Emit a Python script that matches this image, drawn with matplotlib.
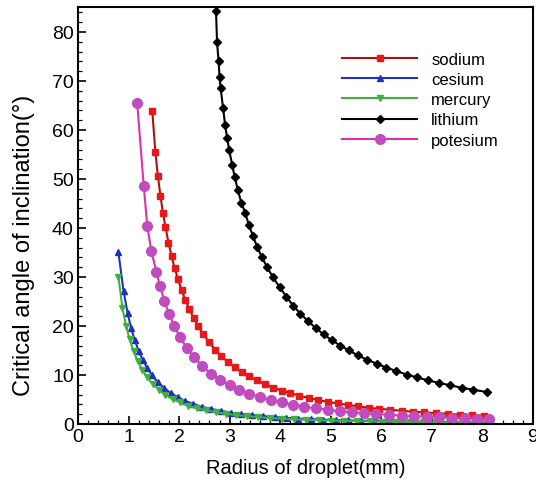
import matplotlib.pyplot as plt
from matplotlib.ticker import MultipleLocator

plt.rcParams['font.family'] = ['Liberation Sans', 'DejaVu Sans']

# radius of droplet (mm) and critical angle (deg)
sodium_r = [1.47, 1.53, 1.58, 1.63, 1.68, 1.73, 1.79, 1.85, 1.91, 1.98, 2.05, 2.12, 2.20, 2.29,
            2.38, 2.48, 2.59, 2.71, 2.83, 2.96, 3.10, 3.24, 3.39, 3.54, 3.70, 3.86, 4.03, 4.20,
            4.38, 4.56, 4.75, 4.94, 5.14, 5.34, 5.54, 5.75, 5.96, 6.18, 6.40, 6.62, 6.85, 7.08,
            7.31, 7.55, 7.79, 8.03]
sodium_a = [63.8, 55.5, 50.6, 46.6, 43.1, 40.2, 37.0, 34.3, 31.9, 29.5, 27.3, 25.4, 23.5, 21.6,
            19.9, 18.3, 16.7, 15.2, 13.9, 12.7, 11.6, 10.6, 9.7, 8.9, 8.1, 7.4, 6.8, 6.3,
            5.8, 5.3, 4.9, 4.5, 4.2, 3.9, 3.6, 3.3, 3.1, 2.9, 2.7, 2.5, 2.4, 2.2,
            2.1, 1.9, 1.8, 1.7]

cesium_r = [0.80, 0.90, 0.98, 1.05, 1.12, 1.20, 1.28, 1.37, 1.47, 1.58, 1.70, 1.83, 1.97, 2.12,
            2.28, 2.45, 2.63, 2.82, 3.02, 3.23, 3.44, 3.66, 3.89, 4.12, 4.36, 4.60, 4.85, 5.10,
            5.35, 5.60, 5.86, 6.12, 6.38, 6.64, 6.90, 7.16, 7.42, 7.68, 7.94, 8.10]
cesium_a = [35.0, 27.2, 22.7, 19.6, 17.2, 14.9, 13.1, 11.4, 9.9, 8.5, 7.4, 6.3, 5.5, 4.7,
            4.1, 3.5, 3.1, 2.7, 2.3, 2.0, 1.8, 1.6, 1.4, 1.25, 1.1, 1.0, 0.9, 0.8,
            0.74, 0.68, 0.62, 0.57, 0.52, 0.48, 0.45, 0.41, 0.39, 0.36, 0.34, 0.32]

mercury_r = [0.80, 0.88, 0.95, 1.02, 1.10, 1.18, 1.27, 1.37, 1.48, 1.60, 1.73, 1.87, 2.02, 2.18,
             2.35, 2.53, 2.72, 2.92, 3.13, 3.35, 3.57, 3.80, 4.03, 4.27, 4.51, 4.76, 5.01, 5.26,
             5.52, 5.78, 6.04, 6.30, 6.56, 6.82, 7.08, 7.34, 7.60, 7.86, 8.12]
mercury_a = [30.0, 23.6, 20.1, 17.3, 14.8, 12.9, 11.1, 9.5, 8.1, 7.0, 5.9, 5.1, 4.4, 3.7,
             3.2, 2.8, 2.4, 2.1, 1.8, 1.6, 1.4, 1.2, 1.1, 0.97, 0.87, 0.78, 0.71, 0.64,
             0.58, 0.53, 0.49, 0.45, 0.41, 0.38, 0.35, 0.33, 0.31, 0.29, 0.27]

lithium_r = [2.73, 2.75, 2.78, 2.80, 2.82, 2.87, 2.91, 2.95, 2.99, 3.05, 3.10, 3.16, 3.23, 3.31,
             3.38, 3.46, 3.54, 3.64, 3.74, 3.86, 3.99, 4.12, 4.26, 4.40, 4.55, 4.70, 4.86, 5.02,
             5.19, 5.36, 5.54, 5.72, 5.91, 6.10, 6.30, 6.50, 6.71, 6.92, 7.14, 7.36, 7.59, 7.82,
             8.10]
lithium_a = [84.3, 78.0, 74.1, 70.8, 68.6, 64.5, 61.0, 58.4, 55.9, 52.9, 50.4, 47.8, 45.2, 43.0,
             40.6, 38.4, 36.2, 34.0, 32.0, 29.9, 27.9, 26.0, 24.1, 22.5, 21.0, 19.6, 18.3, 17.1,
             16.0, 15.0, 14.0, 13.1, 12.3, 11.5, 10.8, 10.1, 9.5, 8.9, 8.4, 7.9, 7.4, 7.0,
             6.5]

potesium_r = [1.17, 1.30, 1.37, 1.45, 1.55, 1.62, 1.71, 1.80, 1.90, 2.02, 2.15, 2.30, 2.46, 2.63,
              2.81, 3.00, 3.19, 3.39, 3.60, 3.81, 4.03, 4.25, 4.48, 4.71, 4.94, 5.18, 5.42, 5.66,
              5.90, 6.15, 6.40, 6.65, 6.90, 7.15, 7.40, 7.65, 7.90, 8.12]
potesium_a = [65.6, 48.6, 40.5, 35.3, 31.1, 28.2, 25.1, 22.5, 20.1, 17.7, 15.6, 13.6, 11.8, 10.3,
              9.0, 7.9, 7.0, 6.2, 5.5, 4.9, 4.4, 3.9, 3.5, 3.2, 2.9, 2.6, 2.4, 2.2,
              2.0, 1.9, 1.7, 1.6, 1.5, 1.4, 1.3, 1.2, 1.1, 1.1]

fig = plt.figure(figsize=(5.36, 4.81), dpi=100)
ax = fig.add_axes([78/536, 1-425/481, (533-78)/536, (425-8)/481])

ax.plot(sodium_r, sodium_a, color='#b01010', lw=1.5, marker='s', ms=5,
        mfc='#e81818', mec='#e81818', label='sodium')
ax.plot(cesium_r, cesium_a, color='#2030c0', lw=1.5, marker='^', ms=4,
        mfc='#2030c0', mec='#2030c0', label='cesium')
ax.plot(mercury_r, mercury_a, color='#40b040', lw=1.5, marker='v', ms=4,
        mfc='#40b040', mec='#40b040', label='mercury')
ax.plot(lithium_r, lithium_a, color='black', lw=1.5, marker='D', ms=4.5,
        mfc='black', mec='black', label='lithium')
ax.plot(potesium_r, potesium_a, color='#e030a8', lw=1.5, marker='o', ms=7,
        mfc='#c04cc0', mec='#c04cc0', label='potesium')

ax.set_xlim(0, 9)
ax.set_ylim(0, 85.1)
ax.xaxis.set_major_locator(MultipleLocator(1))
ax.xaxis.set_minor_locator(MultipleLocator(0.2))
ax.yaxis.set_major_locator(MultipleLocator(10))
ax.yaxis.set_minor_locator(MultipleLocator(2))
ax.tick_params(which='both', direction='in', top=False, right=False, labelsize=14)
ax.tick_params(which='major', length=6, width=1.2, pad=3)
ax.tick_params(which='minor', length=3, width=0.9)
for s in ax.spines.values():
    s.set_linewidth(1.5)

ax.set_xlabel('Radius of droplet(mm)', fontsize=14.5, labelpad=9)
ax.set_ylabel('Critical angle of inclination(°)', fontsize=17)
ax.yaxis.set_label_coords(-0.094, 0.43)

leg = ax.legend(loc='upper left', bbox_to_anchor=(342/536, 1-53/481), bbox_transform=fig.transFigure,
                frameon=False, fontsize=12, numpoints=1, handlelength=4.5, handletextpad=0.85,
                labelspacing=0.31, borderpad=0, borderaxespad=0)

plt.savefig('out.png', dpi=100)
